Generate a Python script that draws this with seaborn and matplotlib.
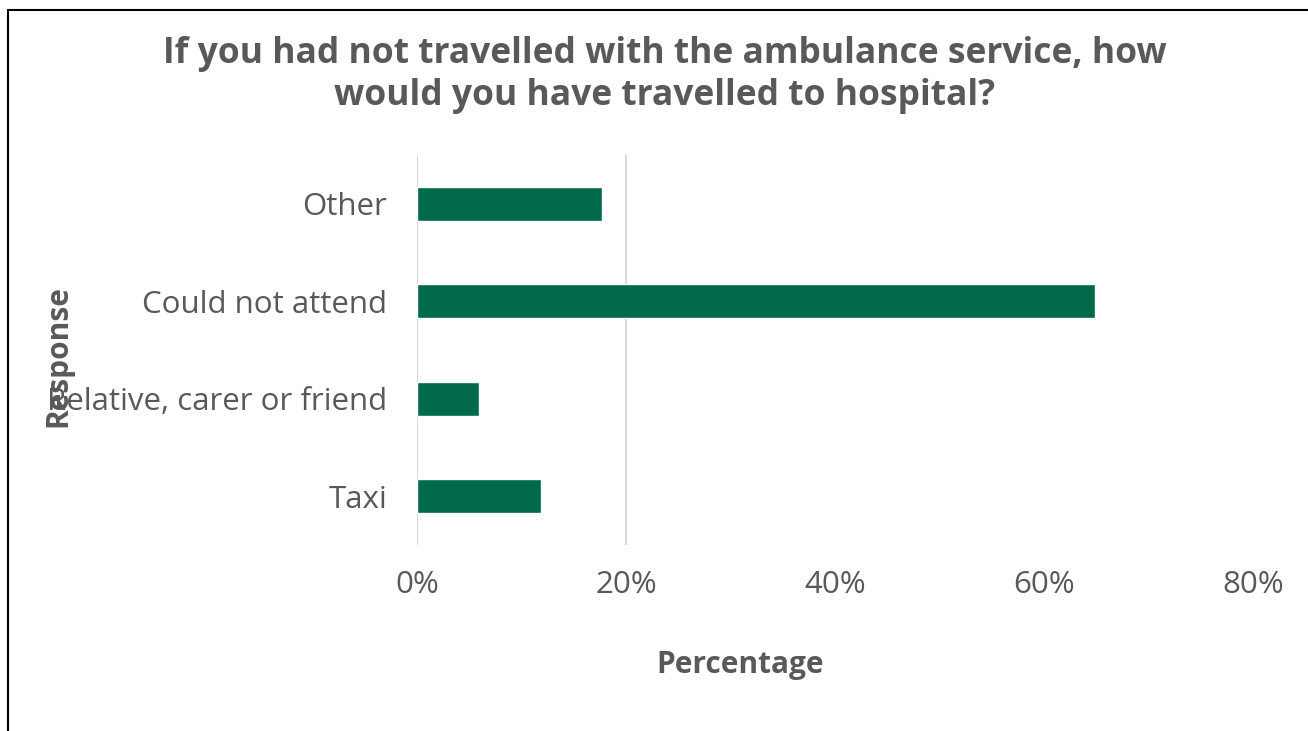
import matplotlib
matplotlib.use("Agg")
import matplotlib.pyplot as plt
import seaborn as sns
import pandas as pd
from matplotlib.patches import Rectangle
from matplotlib.ticker import FuncFormatter

# Survey responses (share of respondents, %)
responses = ["Other", "Could not attend", "Relative, carer or friend", "Taxi"]
percentages = [17.7, 64.9, 5.9, 11.9]
x_ticks = [0, 20, 40, 60, 80]
grid_lines = [0, 20]

sns.set_theme(style="white")
plt.rcParams["font.family"] = ["Open Sans", "DejaVu Sans"]

text_color = "#595959"
bar_color = "#006A4A"

df = pd.DataFrame({"Response": responses, "Percentage": percentages})

fig = plt.figure(figsize=(13.08, 7.31), dpi=100)
ax = fig.add_axes([417 / 1308, 1 - 545 / 731, (1253 - 417) / 1308, (545 - 155) / 731])

for g in grid_lines:
    ax.axvline(g, color="#D9D9D9", lw=1.5, zorder=0)

sns.barplot(data=df, x="Percentage", y="Response", order=responses,
            color=bar_color, saturation=1, width=0.35, ax=ax, zorder=2)

ax.set_xlim(0, 80)
ax.set_ylim(3.5, -0.5)
ax.set_xticks(x_ticks)
ax.xaxis.set_major_formatter(FuncFormatter(lambda v, _: f"{v:.0f}%"))
ax.tick_params(axis="x", length=0, pad=18, labelsize=22.5, labelcolor=text_color)
ax.tick_params(axis="y", length=0, pad=21.5, labelsize=22.5, labelcolor=text_color)
for s in ax.spines.values():
    s.set_visible(False)

ax.set_xlabel("")
ax.set_ylabel("")
fig.text(740 / 1308, 1 - 665 / 731, "Percentage", ha="center", va="center",
         fontsize=21.5, fontweight="bold", color=text_color)
fig.text(58 / 1308, 1 - 356 / 731, "Response", ha="center", va="center",
         rotation=90, fontsize=21.5, fontweight="bold", color=text_color)

fig.text(665 / 1308, 1 - 75 / 731,
         "If you had not travelled with the ambulance service, how\nwould you have travelled to hospital?",
         ha="center", va="center", fontsize=25.5, fontweight="bold",
         color=text_color, linespacing=1.25)

# chart frame
fig.patches.append(Rectangle((8 / 1308, -0.1), 1.2, 1 - 10 / 731 + 0.1,
                             transform=fig.transFigure, fill=False,
                             edgecolor="black", lw=1.5))

fig.savefig("out.png", dpi=100)
